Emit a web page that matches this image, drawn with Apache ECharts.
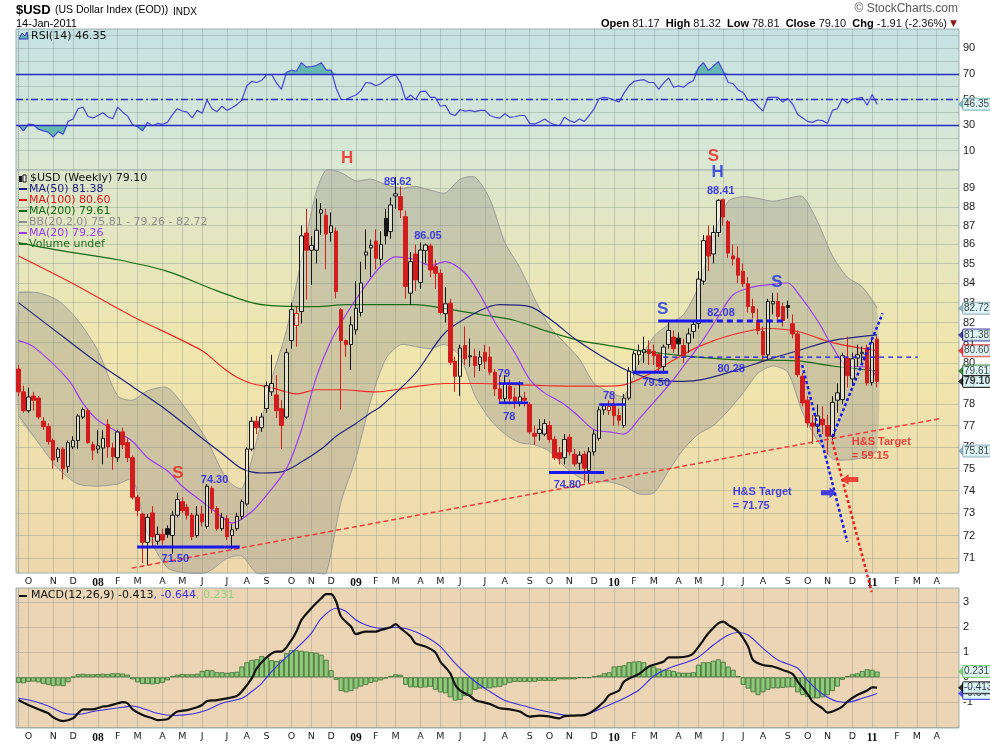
<!DOCTYPE html>
<html lang="en">
<head>
<meta charset="utf-8">
<title>$USD weekly</title>
<script src="https://cdn.jsdelivr.net/npm/echarts@6.0.0/dist/echarts.min.js"></script>
<style>
  html, body { margin: 0; padding: 0; background: #fff; }
  #chart { width: 990px; height: 744px; }
</style>
</head>
<body>
<div id="chart"></div>
<script>
// weekly bars, the first one is the week ending 21-Sep-2007
const firstWeekEnd = Date.UTC(2007, 8, 21);
const weekSlots = 190; // room is left on the right up to early May 2011

// [open, close, low, high] per week
const usdWeekly = [
  [79.7,78.6,78.4,79.9],[78.6,77.7,77.6,78.9],[77.7,78.35,77.6,78.8],[78.4,78.2,77.7,78.6],[78.3,77.4,77.3,78.4],
  [77.2,76.95,76.8,77.4],[76.95,76.25,76.1,77.1],[76.3,75.4,75.0,76.4],[75.5,75.9,75.3,76.0],[75.9,75.0,74.5,76.0],
  [75.1,76.2,74.8,76.3],[76.0,76.3,75.9,76.5],[76.3,77.45,75.9,77.55],[77.4,77.75,77.3,77.85],[77.7,76.2,76.15,77.8],
  [76.1,75.85,75.4,76.25],[75.9,76.05,75.7,76.8],[75.95,76.4,75.2,76.8],[77.05,76.0,75.5,77.3],[75.95,75.55,74.95,76.2],
  [75.5,76.7,75.3,76.8],[76.7,76.1,75.9,76.9],[76.2,75.5,75.3,76.4],[75.5,73.7,73.6,75.6],[73.7,73.1,72.85,73.8],
  [72.95,71.7,70.8,73.0],[71.7,72.8,70.7,72.95],[73.0,71.95,71.5,73.3],[71.75,72.05,71.6,72.4],[72.05,71.8,71.6,72.3],
  [72.3,72.05,71.9,72.45],[72.0,72.9,71.2,73.1],[72.9,73.6,72.8,73.9],[73.5,73.1,73.0,73.7],[73.25,72.9,72.7,73.4],
  [72.9,71.95,71.8,73.0],[72.0,72.9,71.9,73.3],[72.95,72.6,72.4,73.3],[72.4,74.2,72.3,74.3],[74.1,73.2,73.0,74.2],
  [73.2,72.3,72.2,73.3],[72.3,72.8,72.2,73.0],[72.75,71.95,71.8,72.9],[72.0,72.25,71.4,72.5],[72.3,72.85,72.2,73.0],
  [72.85,73.5,72.7,73.6],[73.4,75.9,73.3,76.0],[75.9,77.2,75.8,77.4],[77.2,76.9,76.6,77.45],[76.9,77.4,76.7,77.6],
  [77.8,78.9,77.6,79.1],[78.6,79.0,78.4,80.4],[78.45,77.7,77.35,79.4],[77.8,77.0,75.9,78.2],[77.4,80.5,77.3,80.7],
  [81.1,82.65,80.7,83.0],[81.85,82.45,80.8,82.8],[82.55,86.45,81.95,87.0],[86.6,85.7,83.15,87.9],[85.7,85.95,83.9,86.45],
  [85.7,86.75,85.0,88.45],[87.66,87.84,86.5,88.2],[87.55,86.55,84.7,87.9],[86.63,86.98,86.15,87.7],[86.7,83.56,83.22,86.9],
  [82.64,81.1,77.75,82.72],[81.1,80.9,80.3,81.15],[80.9,81.88,79.66,82.3],[81.63,82.72,81.4,84.1],[82.5,84.0,82.3,85.1],
  [85.45,85.6,84.7,86.8],[85.82,85.95,84.3,86.25],[86.18,85.28,84.7,86.8],[85.23,86.0,84.9,86.7],[87.38,86.45,86.0,87.9],
  [86.68,88.1,86.3,88.5],[88.58,88.7,87.9,89.62],[88.55,87.83,87.4,89.1],[87.47,83.82,83.2,87.8],[83.48,85.1,82.9,85.6],
  [85.5,84.16,83.6,86.0],[84.03,85.71,83.7,86.1],[85.68,85.97,85.0,86.05],[85.92,84.67,84.3,86.05],[84.84,84.5,83.7,85.2],
  [84.5,82.5,82.4,84.7],[82.44,82.94,82.0,83.8],[82.97,80.03,79.9,83.2],[80.08,79.35,78.6,80.3],[79.35,80.73,78.4,80.9],
  [80.85,80.2,79.9,81.8],[80.3,80.35,79.8,81.2],[80.32,79.87,79.3,80.7],[79.92,80.29,79.6,80.6],[80.52,80.08,79.7,80.9],
  [80.29,79.55,79.4,80.8],[79.55,78.74,78.4,79.7],[78.74,78.27,78.1,79.4],[78.27,79.0,78.1,79.4],[78.87,78.27,78.0,79.2],
  [78.35,78.15,77.8,78.8],[78.1,78.36,77.9,79.1],[78.3,78.2,77.9,78.6],[78.0,76.7,76.6,78.1],[76.63,76.5,76.1,77.0],
  [76.63,76.82,76.3,77.3],[76.6,77.1,76.5,77.3],[77.0,76.35,76.2,77.2],[76.35,75.5,75.4,76.5],[75.73,75.47,75.2,76.0],
  [75.5,76.35,75.2,76.6],[76.45,75.77,75.6,76.6],[75.66,75.21,75.1,75.9],[75.25,75.62,74.95,75.8],[75.66,75.02,74.35,75.8],
  [74.92,75.77,74.35,76.0],[75.77,76.6,75.6,76.8],[76.4,77.74,76.3,77.9],[77.74,77.93,77.5,78.0],[77.7,77.9,77.5,78.2],
  [77.93,77.47,77.0,78.3],[77.47,77.25,77.0,77.8],[77.0,78.3,76.9,78.5],[78.3,79.6,78.2,79.8],[79.6,80.45,79.4,80.6],
  [80.4,80.6,79.9,80.9],[80.5,80.65,80.0,81.3],[80.65,80.45,79.9,81.1],[80.57,80.35,79.9,80.9],[80.4,79.82,79.6,80.5],
  [79.82,80.78,79.5,80.9],[80.9,81.6,80.7,82.1],[81.27,80.7,80.5,81.6],[81.22,80.94,80.4,81.5],[80.85,80.38,80.0,81.2],
  [80.98,81.43,80.5,81.7],[81.55,81.9,81.2,82.1],[81.95,84.2,81.7,84.6],[84.1,86.2,83.9,86.5],[86.45,85.4,84.6,87.0],
  [85.5,86.63,85.0,87.0],[86.63,88.35,86.4,88.41],[88.4,87.45,87.0,88.41],[87.2,85.55,85.3,87.3],[85.4,85.25,84.9,86.0],
  [85.28,84.4,84.0,85.9],[84.6,83.96,83.8,85.0],[83.96,82.8,82.5,84.3],[82.8,82.5,82.2,83.2],[82.1,81.6,81.4,82.7],
  [81.55,80.4,80.1,81.8],[80.4,83.06,80.2,83.2],[82.94,83.06,82.4,83.5],[83.06,82.3,82.0,83.5],[82.8,82.1,81.8,83.0],
  [82.85,82.75,82.2,83.1],[81.94,81.43,81.2,82.4],[81.43,79.43,79.3,81.6],[79.35,78.07,77.9,79.5],[78.2,77.12,76.9,78.4],
  [77.12,76.97,76.15,77.5],[76.97,77.45,76.6,78.0],[77.3,77.03,76.6,77.9],[77.0,76.5,75.65,77.5],[76.5,78.1,76.3,78.4],
  [78.2,78.55,77.6,79.0],[78.23,80.35,78.0,80.5],[80.24,79.38,78.8,81.3],[79.22,80.2,78.9,80.5],[80.24,80.4,79.8,80.9],
  [80.45,80.52,80.0,80.8],[80.72,79.03,78.9,80.9],[79.05,81.0,78.9,81.2],[81.17,79.10,78.81,81.32]
];

const rsi14 = [
  30.0,25.5,30.8,30.3,26.8,25.5,24.5,20.7,24.9,22.8,32.9,34.8,42.8,44.1,36.7,35.6,37.5,39.6,36.5,35.0,
  44.1,40.1,37.0,30.3,28.7,25.5,32.1,29.5,31.3,30.5,32.1,38.0,42.8,41.0,40.1,35.6,41.5,39.3,49.5,42.8,
  40.5,44.7,41.5,43.6,46.0,49.5,60.7,64.1,63.3,65.0,69.5,69.5,62.8,58.0,71.3,72.9,72.1,78.8,75.3,75.8,
  76.5,78.8,72.9,72.9,58.8,50.0,50.0,52.0,53.5,56.9,63.3,62.8,60.7,62.3,65.5,68.0,69.2,62.8,50.0,53.5,
  50.0,56.1,56.5,51.6,51.6,44.7,45.5,38.8,37.5,42.0,40.9,41.5,40.5,41.5,41.5,37.5,36.1,35.5,38.8,36.1,
  36.5,37.5,37.5,31.3,30.8,32.5,34.8,32.0,30.3,29.5,36.1,33.5,32.1,34.8,32.9,37.5,42.8,50.8,51.6,51.0,
  49.5,48.1,55.0,60.7,64.1,65.0,65.5,63.3,63.3,58.0,63.0,66.8,59.6,60.7,59.6,62.8,64.9,74.8,78.8,72.7,
  76.1,79.6,72.1,63.3,62.3,57.5,55.5,49.5,48.9,44.7,40.9,51.6,51.6,51.6,48.1,50.8,46.3,38.3,35.6,32.9,
  32.1,34.0,33.5,31.3,41.5,42.8,50.8,47.3,50.3,51.0,51.6,45.5,54.0,46.35
];

const macdHist = [
  -0.22,-0.24,-0.18,-0.17,-0.2,-0.26,-0.3,-0.35,-0.33,-0.35,-0.2,0.02,0.12,0.14,0.12,0.12,0.13,0.14,0.13,0.16,
  0.16,0.15,0.1,-0.08,-0.2,-0.27,-0.27,-0.28,-0.26,-0.22,-0.12,0.05,0.1,0.13,0.12,0.12,0.14,0.25,0.29,0.28,
  0.2,0.2,0.18,0.2,0.22,0.43,0.6,0.69,0.72,0.85,0.8,0.68,0.65,0.7,0.96,1.08,1.08,1.06,1.03,1.0,
  0.98,0.9,0.7,0.28,-0.1,-0.55,-0.6,-0.55,-0.45,-0.37,-0.3,-0.22,-0.17,-0.12,-0.05,0.05,0.12,0.1,-0.3,-0.4,
  -0.4,-0.42,-0.4,-0.38,-0.5,-0.6,-0.64,-0.8,-0.93,-0.9,-0.75,-0.7,-0.5,-0.45,-0.44,-0.44,-0.4,-0.38,-0.3,-0.22,
  -0.18,-0.18,-0.18,-0.18,-0.18,-0.14,-0.14,-0.14,-0.14,-0.08,-0.08,-0.08,-0.08,-0.03,-0.03,-0.03,0.05,0.08,0.16,0.2,
  0.43,0.45,0.48,0.6,0.63,0.64,0.6,0.45,0.43,0.35,0.29,0.29,0.25,0.19,0.18,0.18,0.2,0.5,0.6,0.6,
  0.66,0.72,0.62,0.43,0.3,0.05,-0.3,-0.45,-0.6,-0.71,-0.6,-0.5,-0.44,-0.44,-0.42,-0.4,-0.4,-0.6,-0.71,-0.78,
  -0.84,-0.84,-0.8,-0.71,-0.55,-0.37,-0.1,0.05,0.12,0.16,0.25,0.32,0.3,0.231
];

// [week, value]
const macdLine = [
  [0,-0.91],[2,-1.11],[4,-1.28],[6,-1.44],[7,-1.6],[9,-1.75],[11,-1.64],[12,-1.44],[13,-1.28],[15,-1.28],
  [17,-1.17],[18,-1.15],[20,-1.04],[21,-0.99],[22,-1.04],[23,-1.28],[25,-1.51],[27,-1.64],[28,-1.71],[30,-1.68],
  [31,-1.51],[32,-1.37],[34,-1.31],[36,-1.2],[37,-1.11],[38,-0.95],[40,-0.91],[42,-0.84],[44,-0.75],[45,-0.57],
  [47,-0.04],[48,0.36],[50,0.8],[52,1.03],[53,1.03],[55,1.49],[56,1.83],[57,2.29],[59,2.76],[61,3.16],
  [62,3.33],[63,3.33],[64,3.03],[65,2.43],[67,2.03],[68,1.73],[70,1.83],[72,1.83],[73,1.89],[75,2.0],
  [76,2.13],[77,1.96],[79,1.63],[80,1.36],[82,1.23],[84,0.99],[85,0.63],[87,0.16],[88,-0.31],[89,-0.53],
  [91,-0.75],[92,-0.91],[93,-0.97],[95,-1.07],[97,-1.24],[99,-1.28],[101,-1.37],[103,-1.57],[105,-1.53],[107,-1.57],
  [109,-1.64],[110,-1.55],[112,-1.53],[114,-1.51],[116,-1.31],[118,-0.97],[119,-0.71],[121,-0.53],[122,-0.17],[125,0.13],
  [127,0.43],[129,0.56],[130,0.63],[131,0.8],[133,0.8],[135,0.85],[136,0.96],[138,1.49],[139,1.76],[141,2.16],
  [142,2.23],[143,2.09],[145,1.83],[147,1.23],[148,0.69],[150,0.49],[152,0.43],[154,0.29],[156,0.13],[157,-0.17],
  [159,-0.67],[160,-0.97],[162,-1.24],[163,-1.41],[164,-1.37],[166,-1.17],[167,-0.97],[169,-0.71],[171,-0.53],[172,-0.4],
  [173,-0.413]
];
const macdSignal = [
  [0,-0.84],[3,-0.95],[6,-1.15],[10,-1.47],[12,-1.48],[15,-1.37],[18,-1.28],[21,-1.2],[23,-1.15],[26,-1.31],
  [28,-1.44],[31,-1.53],[35,-1.47],[38,-1.31],[41,-1.04],[45,-0.84],[47,-0.57],[49,-0.24],[51,0.23],[53,0.63],
  [56,1.16],[59,1.76],[61,2.36],[64,2.76],[66,2.63],[68,2.29],[70,2.09],[73,1.96],[76,2.0],[79,1.89],
  [82,1.63],[85,1.23],[88,0.56],[92,-0.17],[95,-0.57],[98,-0.93],[102,-1.15],[105,-1.31],[108,-1.44],[111,-1.53],
  [114,-1.51],[116,-1.37],[119,-1.11],[122,-0.84],[125,-0.51],[128,0.05],[131,0.36],[135,0.63],[137,0.8],[140,1.29],
  [143,1.69],[145,1.79],[147,1.69],[150,1.16],[153,0.69],[157,0.36],[159,-0.13],[162,-0.67],[165,-0.97],[167,-1.0],
  [170,-0.84],[173,-0.644]
];

const ma20 = [
  [0,81.1],[3,80.8],[10,79.2],[13,78.05],[16,77.25],[20,76.7],[23,76.25],[26,75.5],[30,74.9],[33,74.2],
  [37,73.5],[40,73.0],[43,72.55],[47,73.05],[50,73.8],[54,75.0],[57,76.8],[60,79.3],[63,81.1],[66,82.4],
  [70,83.9],[73,84.85],[76,85.35],[80,85.2],[83,84.9],[86,85.1],[90,84.5],[93,83.4],[96,82.0],[100,80.5],
  [103,79.2],[106,78.55],[110,78.0],[113,77.4],[116,76.8],[119,76.7],[122,76.6],[125,77.3],[128,78.1],[132,79.2],
  [134,79.85],[137,80.8],[141,82.3],[144,83.4],[148,83.8],[151,83.9],[155,84.0],[157,83.5],[161,82.1],[164,80.8],
  [167,79.85],[171,79.8],[173,79.26]
];
const ma50 = [
  [0,83.0],[10,81.1],[16,80.0],[23,78.85],[30,77.7],[37,76.4],[41,75.7],[45,75.0],[49,74.8],[53,74.85],
  [57,75.3],[61,75.9],[64,76.5],[68,77.1],[71,77.6],[73,77.9],[80,79.5],[86,81.5],[93,82.6],[97,82.9],
  [103,82.8],[108,82.0],[112,81.2],[117,80.4],[122,79.7],[128,79.2],[134,79.1],[138,79.2],[144,79.6],[151,80.16],
  [157,80.6],[164,81.1],[173,81.38]
];
const ma100 = [
  [0,85.4],[10,84.1],[23,82.3],[37,80.6],[41,79.8],[44,79.3],[47,79.0],[51,78.8],[56,78.5],[60,78.7],
  [65,78.7],[72,78.6],[80,78.85],[86,79.0],[93,79.0],[100,78.95],[106,78.9],[113,78.87],[121,78.9],[125,79.2],
  [131,80.0],[137,80.8],[144,81.4],[151,81.7],[157,81.55],[164,81.0],[173,80.6]
];
const ma200 = [
  [0,86.1],[8,85.7],[20,85.2],[30,84.6],[40,83.6],[47,83.0],[51,82.85],[60,82.8],[66,82.9],[73,82.9],
  [80,82.9],[86,82.7],[93,82.4],[100,82.1],[106,81.6],[113,81.1],[118,80.9],[125,80.6],[132,80.4],[144,80.16],
  [157,80.1],[164,79.85],[173,79.61]
];

const bbWeeks = [0,4,8,12,16,20,23,26,30,34,38,42,45,48,51,54,57,60,62,65,68,71,74,77,80,83,86,89,92,95,
  98,101,104,107,110,113,116,119,122,125,128,131,134,137,140,143,146,149,152,155,158,161,164,167,170,173];
const bbUpper = [83.5,83.5,83.1,82.1,80.6,78.4,78.2,78.65,78.8,77.7,76.3,74.5,74.1,76.3,79.2,81.6,85.2,88.8,90.0,89.85,
  89.4,89.5,89.2,89.0,89.1,88.9,88.75,89.5,89.6,88.4,86.1,84.8,83.2,81.8,81.0,80.2,79.0,78.6,78.4,80.0,
  81.3,81.9,82.4,83.8,86.4,88.3,88.55,88.45,88.3,88.45,88.55,87.2,85.4,84.3,83.8,82.72];
const bbLower = [77.5,76.2,75.0,74.3,74.2,74.3,74.5,72.1,70.6,70.3,70.4,71.0,71.1,70.3,69.5,68.5,68.0,68.5,70.3,73.5,
  75.5,78.2,80.2,80.9,80.8,80.7,80.9,80.3,78.4,77.3,76.6,76.2,76.1,75.8,75.1,74.6,74.4,74.4,74.2,73.85,
  73.9,74.9,75.9,76.6,77.0,77.7,78.55,79.5,79.85,79.55,77.6,76.3,75.45,75.4,75.5,75.81];

// drawn pattern marks, [week, price] end points
const supportLine = [[22.8,70.58],[186.0,77.34]];
const level7150 = [[23.9,71.5],[44.6,71.5]];
const level7480 = [[106.9,74.82],[118.0,74.82]];
const level79 = [[96.8,79.0],[101.7,79.0]];
const level78a = [[96.8,78.08],[102.7,78.08]];
const level78b = [[117.0,78.0],[122.3,78.0]];
const level7950 = [[123.8,79.55],[130.9,79.55]];
const level8208 = [[128.9,82.08],[138.7,82.08]];
const level8208ext = [[138.7,82.08],[154.4,82.08]];
const neck8028 = [[129.9,80.28],[181.2,80.28]];
const blueDrop = [[157.9,79.9],[167.0,71.72]];
const blueRise = [[164.0,76.48],[174.1,82.46]];
const redDrop = [[164.0,76.25],[171.9,69.56]];
const blueArrow = [[163.2,73.9]];
const redArrow = [[167.5,74.5]];

const redLetters = [[66.2,90.64,'H'],[140.0,90.77,'S'],[32.1,74.8,'S']];
const blueLetters = [[140.85,89.9,'H'],[129.8,82.67,'S'],[152.8,84.03,'S']];
const priceNotes = [[76.4,89.34,'89.62'],[82.5,86.45,'86.05'],[39.5,74.48,'74.30'],[31.6,70.97,'71.50'],
  [97.8,79.45,'79'],[98.9,77.42,'78'],[110.6,74.27,'74.80'],[119.0,78.41,'78'],[128.5,79.04,'79.50'],
  [141.55,82.48,'82.08'],[143.6,79.72,'80.28'],[141.5,88.84,'88.41']];
const redTarget = [[167.9,76.22,'H&S Target'],[167.9,75.6,'= 59.15']];
const blueTarget = [[143.9,73.92,'H&S Target'],[143.9,73.33,'= 71.75']];

const priceTicks = [71,72,73,74,75,76,77,78,79,80,81,82,83,84,85,86,87,88,89];
const rsiLabels = [10,30,50,70,90];
const rsiGrid = [10,20,30,40,50,60,70,80,90,100];
const macdLabels = [-1,0,1,2,3];
const macdGrid = [-2,-1,0,1,2,3];

const last = { open: 81.17, high: 81.32, low: 78.81, close: 79.10, chg: -1.91, pct: -2.36 };
const lastMa50 = 81.38, lastMa100 = 80.60, lastMa200 = 79.61, lastMa20 = 79.26;
const lastBbLow = 75.81, lastBbUp = 82.72, lastRsi = 46.35;
const lastMacd = -0.413, lastSignal = -0.644, lastHist = 0.231;

const PRICE_MIN = 70.37, PRICE_MAX = 90.0;

// week axis
const DAY = 86400000;
const weekDates = [];
for (let k = 0; k < weekSlots; k++) weekDates.push(new Date(firstWeekEnd + k * 7 * DAY));
const weekNames = weekDates.map(d => d.toISOString().slice(0, 10));
const monthLetters = ['J','F','M','A','M','J','J','A','S','O','N','D'];
const monthTicks = [];
const monthText = {};
for (let k = 1; k < weekSlots - 2; k++) {
  // a month starts on the first week whose monday falls in it
  const m = new Date(weekDates[k].getTime() - 4 * DAY).getUTCMonth();
  const pm = new Date(weekDates[k - 1].getTime() - 4 * DAY).getUTCMonth();
  if (m !== pm) {
    monthTicks.push(k);
    monthText[k] = m === 0 ? '{yr|' + String(weekDates[k].getUTCFullYear()).slice(2) + '}' : monthLetters[m];
  }
}

const RED = '#e8231c', BLUE = '#1717ee', GRID = 'rgba(110,130,120,0.30)';
const SANS = 'DejaVu Sans', ARIAL = 'Liberation Sans';

const candleItems = usdWeekly.map((d, k) => {
  const prevClose = k > 0 ? usdWeekly[k - 1][1] : d[0];
  const tone = d[1] >= prevClose ? '#151515' : '#d11d1d';
  const fill = d[1] >= d[0] ? 'rgba(255,255,255,0.45)' : tone;
  return { value: d, itemStyle: { color: fill, color0: fill, borderColor: tone, borderColor0: tone } };
});

const grids = [
  { left: 16, top: 29, width: 943, height: 141 },
  { left: 16, top: 170, width: 943, height: 403 },
  { left: 16, top: 588, width: 943, height: 140 }
];
const gridBg = [
  new echarts.graphic.LinearGradient(0, 0, 0, 1, [{ offset: 0, color: '#c5e2e4' }, { offset: 1, color: '#dbe8d3' }]),
  new echarts.graphic.LinearGradient(0, 0, 0, 1, [{ offset: 0, color: '#dce6cc' }, { offset: 0.45, color: '#f0e6ae' }, { offset: 1, color: '#eed8ad' }]),
  '#ecd5b5'
];

function catAxis(g) {
  return { type: 'category', gridIndex: g, data: weekNames, boundaryGap: true, show: false };
}
function weekAxis(g, withLabels) {
  return {
    type: 'value', gridIndex: g, min: -0.5, max: weekSlots - 0.5, position: 'bottom',
    axisLine: { show: false },
    axisTick: { show: false, customValues: monthTicks },
    axisLabel: {
      show: withLabels, customValues: monthTicks, formatter: v => monthText[v] || '',
      fontFamily: SANS, fontSize: 9.5, color: '#222', margin: 4,
      rich: { yr: { fontFamily: 'Liberation Serif', fontWeight: 'bold', fontSize: 11.5, color: '#111' } }
    },
    splitLine: { show: true, lineStyle: { color: GRID, width: 1 } }
  };
}
function sideAxis(g, extra) {
  return Object.assign({
    gridIndex: g, position: 'right',
    axisLine: { show: true, lineStyle: { color: '#9aa7a7', type: 'dotted' } },
    splitLine: { show: true, lineStyle: { color: GRID, width: 1 } }
  }, extra);
}
const sideLabel = { fontFamily: ARIAL, fontSize: 11, color: '#1a1a1a', margin: 4 };

function segment(points, color, width, type, extra) {
  return Object.assign({
    type: 'line', xAxisIndex: 3, yAxisIndex: 1, data: points, symbol: 'none', silent: true,
    lineStyle: { color, width, type }, z: 6
  }, extra || {});
}
function notes(points, color, size, position) {
  return {
    type: 'scatter', xAxisIndex: 3, yAxisIndex: 1, data: points, symbolSize: 0, silent: true, clip: false, z: 8,
    label: {
      show: true, position, distance: 0, formatter: p => p.data[2],
      color, fontFamily: ARIAL, fontWeight: 'bold', fontSize: size
    }
  };
}
// value tag at the right edge: a small pointer plus a boxed label
function tag(value, text, border, bold) {
  return {
    value: [weekSlots - 0.5, value],
    itemStyle: { color: border },
    label: { formatter: text, borderColor: border, fontWeight: bold ? 'bold' : 'normal', fontSize: bold ? 10.5 : 10 }
  };
}
function tagSeries(xi, yi, items) {
  return {
    type: 'scatter', xAxisIndex: xi, yAxisIndex: yi, data: items, silent: true, clip: false, z: 9,
    symbol: 'path://M0,5L6,0L6,10Z', symbolSize: [5, 9], symbolOffset: [1.5, 0],
    label: {
      show: true, position: 'right', distance: 0, color: '#111', fontFamily: ARIAL, lineHeight: 11,
      backgroundColor: '#d8f5f6', borderWidth: 1, borderRadius: 1, padding: [0, 1, 0, 1]
    }
  };
}

// Bollinger band: shaded between the two edges, drawn in price coordinates
function renderBand(params, api) {
  const upper = bbWeeks.map((w, k) => api.coord([w, Math.min(bbUpper[k], PRICE_MAX)]));
  const lower = bbWeeks.map((w, k) => api.coord([w, Math.max(bbLower[k], PRICE_MIN)]));
  const edge = { stroke: '#9b9b9b', lineWidth: 1, fill: null };
  return {
    type: 'group',
    children: [
      { type: 'polygon', shape: { points: upper.concat(lower.slice().reverse()), smooth: 0.25 },
        style: { fill: 'rgba(135,135,135,0.32)' } },
      { type: 'polyline', shape: { points: upper, smooth: 0.25 }, style: edge },
      { type: 'polyline', shape: { points: lower, smooth: 0.25 }, style: edge }
    ]
  };
}

const series = [
  // RSI
  { type: 'line', xAxisIndex: 0, yAxisIndex: 0, data: rsi14.map(v => Math.max(v, 70)), symbol: 'none', silent: true,
    lineStyle: { width: 0 }, areaStyle: { origin: 70, color: '#5fb5ae', opacity: 0.95 }, z: 2 },
  { type: 'line', xAxisIndex: 0, yAxisIndex: 0, data: rsi14.map(v => Math.min(v, 30)), symbol: 'none', silent: true,
    lineStyle: { width: 0 }, areaStyle: { origin: 30, color: '#5fb5ae', opacity: 0.95 }, z: 2 },
  { type: 'line', xAxisIndex: 0, yAxisIndex: 0, data: rsi14, symbol: 'none', silent: true,
    lineStyle: { color: '#4646d6', width: 1.2 }, z: 4,
    markLine: {
      silent: true, symbol: 'none', label: { show: false },
      lineStyle: { color: '#2a2ac4', width: 1.3, type: 'solid' },
      data: [{ yAxis: 70 }, { yAxis: 30 }, { yAxis: 50, lineStyle: { type: [7, 3, 2, 3] } }]
    } },
  tagSeries(1, 0, [tag(lastRsi, lastRsi.toFixed(2), '#6aa6a6')]),

  { type: 'custom', xAxisIndex: 3, yAxisIndex: 1, data: [[0, 80]], renderItem: renderBand, silent: true, z: 1 },

  // moving averages
  { type: 'line', xAxisIndex: 3, yAxisIndex: 1, data: ma200, symbol: 'none', smooth: 0.3, silent: true, lineStyle: { color: '#166b16', width: 1.2 }, z: 2 },
  { type: 'line', xAxisIndex: 3, yAxisIndex: 1, data: ma100, symbol: 'none', smooth: 0.3, silent: true, lineStyle: { color: '#f02a2a', width: 1.2 }, z: 2 },
  { type: 'line', xAxisIndex: 3, yAxisIndex: 1, data: ma50, symbol: 'none', smooth: 0.3, silent: true, lineStyle: { color: '#23237e', width: 1.2 }, z: 2 },
  { type: 'line', xAxisIndex: 3, yAxisIndex: 1, data: ma20, symbol: 'none', smooth: 0.3, silent: true, lineStyle: { color: '#9a3cf0', width: 1.2 }, z: 2 },

  // price bars
  { type: 'candlestick', xAxisIndex: 2, yAxisIndex: 1, data: candleItems, barWidth: 4, silent: true, z: 3 },

  // pattern marks
  segment(supportLine, '#f23a3a', 1.5, [5, 3]),
  segment(level7150, BLUE, 3, 'solid'),
  segment(level7480, BLUE, 3, 'solid'),
  segment(level79, BLUE, 2.5, 'solid'),
  segment(level78a, BLUE, 2.5, 'solid'),
  segment(level78b, BLUE, 2.5, 'solid'),
  segment(level7950, BLUE, 3, 'solid'),
  segment(level8208, BLUE, 3, 'solid'),
  segment(level8208ext, BLUE, 3, [6, 4]),
  segment(neck8028, BLUE, 1.3, [5, 4]),
  segment(blueDrop, BLUE, 2.5, [3, 2.5]),
  segment(blueRise, BLUE, 2.5, [3, 2.5]),
  segment(redDrop, '#f02020', 2.5, [3, 2.5], { clip: false }),
  { type: 'scatter', xAxisIndex: 3, yAxisIndex: 1, data: blueArrow, silent: true, z: 7,
    symbol: 'path://M0,3L8,3L8,0L14,5.5L8,11L8,8L0,8Z', symbolSize: [15, 11], itemStyle: { color: BLUE } },
  { type: 'scatter', xAxisIndex: 3, yAxisIndex: 1, data: redArrow, silent: true, z: 7, symbolRotate: 180,
    symbol: 'path://M0,3L8,3L8,0L14,5.5L8,11L8,8L0,8Z', symbolSize: [17, 11], itemStyle: { color: '#f01c1c' } },
  notes(redLetters, RED, 17, 'inside'),
  notes(blueLetters, '#1c2fe0', 17, 'inside'),
  notes(priceNotes, BLUE, 11, 'inside'),
  notes(redTarget, '#f01c1c', 11, 'right'),
  notes(blueTarget, BLUE, 11, 'right'),
  tagSeries(3, 1, [
    tag(lastBbUp, lastBbUp.toFixed(2), '#7d9fae'),
    tag(lastMa50, lastMa50.toFixed(2), '#1b1b80'),
    tag(lastMa100, lastMa100.toFixed(2), '#e01818'),
    tag(lastMa200, lastMa200.toFixed(2), '#146a14'),
    tag(last.close, last.close.toFixed(2), '#000', true),
    tag(lastBbLow, lastBbLow.toFixed(2), '#7d9fae')
  ]),

  // MACD
  { type: 'bar', xAxisIndex: 4, yAxisIndex: 2, data: macdHist, barCategoryGap: '0%', silent: true, z: 2,
    itemStyle: { color: '#8fca7c', borderColor: '#3b6b31', borderWidth: 0.8 } },
  { type: 'line', xAxisIndex: 5, yAxisIndex: 2, data: macdSignal, symbol: 'none', smooth: 0.3, silent: true, lineStyle: { color: '#3a2ee0', width: 1.1 }, z: 3 },
  { type: 'line', xAxisIndex: 5, yAxisIndex: 2, data: macdLine, symbol: 'none', smooth: 0.3, silent: true, lineStyle: { color: '#111', width: 2.2 }, z: 4 },
  tagSeries(5, 2, [
    tag(lastHist, lastHist.toFixed(3), '#67c25a'),
    tag(lastSignal, lastSignal.toFixed(3), '#2a2ae0'),
    tag(lastMacd, lastMacd.toFixed(3), '#000')
  ])
];

function txt(x, y, text, font, fill, extra) {
  return { type: 'text', x, y, silent: true, z: 20,
    style: Object.assign({ text, font, fill: fill || '#000', verticalAlign: 'top', textVerticalAlign: 'top' }, extra || {}) };
}
function legendRow(y, color, text) {
  return [
    { type: 'rect', shape: { x: 19, y: y + 4, width: 8, height: 2 }, style: { fill: color }, silent: true, z: 20 },
    txt(29, y, text, '11px "DejaVu Sans"', color)
  ];
}
const sign = v => (v > 0 ? '+' : '') + v.toFixed(2);

const graphics = [
  txt(16, 4, '$USD', 'bold 13px "Liberation Sans"', '#000'),
  txt(55, 5, '(US Dollar Index (EOD))', '10.5px "Liberation Sans"', '#000'),
  txt(173, 7, 'INDX', '10px "Liberation Sans"', '#000'),
  txt(16, 18, '14-Jan-2011', '11px "Liberation Sans"', '#000'),
  txt(958, 3, '\u00a9 StockCharts.com', '12px "Liberation Sans"', '#555', { align: 'right', textAlign: 'right' }),
  txt(957, 18,
    '{b|Open} ' + last.open.toFixed(2) + '  {b|High} ' + last.high.toFixed(2) + '  {b|Low} ' + last.low.toFixed(2) +
    '  {b|Close} ' + last.close.toFixed(2) + '  {b|Chg} ' + sign(last.chg) + ' (' + sign(last.pct) + '%) {t|\u25bc}',
    '11px "Liberation Sans"', '#111',
    { align: 'right', textAlign: 'right',
      rich: { b: { font: 'bold 11px "Liberation Sans"', fill: '#000' }, t: { font: '9px "DejaVu Sans"', fill: '#8a1a1a' } } }),
  // RSI caption
  { type: 'polygon', shape: { points: [[19, 39], [22, 33], [25, 36], [27, 32], [28, 39]] },
    style: { fill: '#5fb5ae', stroke: '#3535c0', lineWidth: 1 }, silent: true, z: 20 },
  txt(31, 31, 'RSI(14) ' + lastRsi.toFixed(2), '11px "DejaVu Sans"', '#111'),
  // price captions
  { type: 'rect', shape: { x: 19, y: 176, width: 3, height: 6 }, style: { fill: '#111' }, silent: true, z: 20 },
  { type: 'rect', shape: { x: 23, y: 175, width: 3, height: 7 }, style: { fill: '#fff', stroke: '#111', lineWidth: 1 }, silent: true, z: 20 },
  txt(30, 173, '$USD (Weekly) ' + last.close.toFixed(2), '11px "DejaVu Sans"', '#111')
].concat(
  legendRow(184, '#1b1b80', 'MA(50) ' + lastMa50.toFixed(2)),
  legendRow(195, '#e01818', 'MA(100) ' + lastMa100.toFixed(2)),
  legendRow(206, '#146a14', 'MA(200) ' + lastMa200.toFixed(2)),
  legendRow(217, '#8e8e8e', 'BB(20,2.0) ' + lastBbLow.toFixed(2) + ' - ' + lastMa20.toFixed(2) + ' - ' + lastBbUp.toFixed(2)),
  legendRow(228, '#9a3cf0', 'MA(20) ' + lastMa20.toFixed(2)),
  legendRow(239, '#1d6e1d', 'Volume undef'),
  [
    { type: 'rect', shape: { x: 19, y: 595, width: 8, height: 2 }, style: { fill: '#111' }, silent: true, z: 20 },
    txt(31, 590, '{k|MACD(12,26,9) ' + lastMacd.toFixed(3) + '}{s|, ' + lastSignal.toFixed(3) + '}{h|, ' + lastHist.toFixed(3) + '}',
      '11px "DejaVu Sans"', '#111',
      { rich: { k: { fill: '#111' }, s: { fill: '#3a2ee0' }, h: { fill: '#8fd07a' } } })
  ]
);

const chart = echarts.init(document.getElementById('chart'));
chart.setOption({
  animation: false,
  backgroundColor: '#fff',
  textStyle: { fontFamily: SANS },
  grid: grids.map((g, k) => Object.assign({
    show: true, backgroundColor: gridBg[k], borderColor: '#9fb0b0', borderWidth: 1, containLabel: false, outerBoundsMode: 'none'
  }, g)),
  xAxis: [catAxis(0), weekAxis(0, false), catAxis(1), weekAxis(1, true), catAxis(2), weekAxis(2, true)],
  yAxis: [
    sideAxis(0, { type: 'value', min: -5.1, max: 105.1,
      axisTick: { show: false, customValues: rsiGrid },
      axisLabel: Object.assign({ customValues: rsiLabels }, sideLabel) }),
    sideAxis(1, { type: 'log', logBase: 10, min: PRICE_MIN, max: PRICE_MAX,
      axisTick: { show: false, customValues: priceTicks },
      axisLabel: Object.assign({ customValues: priceTicks, formatter: v => String(Math.round(v)) }, sideLabel) }),
    sideAxis(2, { type: 'value', min: -2.028, max: 3.572,
      axisTick: { show: false, customValues: macdGrid },
      axisLabel: Object.assign({ customValues: macdLabels }, sideLabel) })
  ],
  series,
  graphic: { elements: graphics }
});
</script>
</body>
</html>
